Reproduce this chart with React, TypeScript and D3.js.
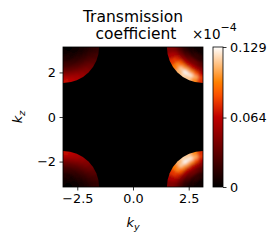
import * as d3 from "d3";
import React, { useRef, useEffect } from "react";

const width = 279;
const height = 246;
const plot = { left: 63, top: 47, right: 203, bottom: 187 };
const cbar = { x: 213, w: 10 };

// polar grid around each Brillouin-zone corner (radius in 1/a, angle from side edge in degrees)
const ringEdges = [0, 0.4, 0.7, 0.95, 1.15, 1.32, 1.47, 1.62];
const sectorEdges = [0, 10, 20, 30, 40, 50, 60, 70, 80, 90];

// transmission (x1e-4), rows = rings (inner -> outer), cols = sectors
const rightCorner = [
  [0.005, 0.005, 0.005, 0.005, 0.005, 0.004, 0.004, 0.003, 0.003],
  [0.013, 0.015, 0.017, 0.018, 0.017, 0.014, 0.012, 0.009, 0.007],
  [0.028, 0.034, 0.039, 0.04, 0.037, 0.032, 0.026, 0.019, 0.014],
  [0.046, 0.057, 0.065, 0.067, 0.064, 0.057, 0.046, 0.036, 0.026],
  [0.065, 0.085, 0.101, 0.106, 0.1, 0.088, 0.071, 0.054, 0.039],
  [0.08, 0.11, 0.126, 0.129, 0.119, 0.101, 0.08, 0.061, 0.045],
  [0.075, 0.1, 0.115, 0.118, 0.11, 0.095, 0.077, 0.059, 0.044],
];
const leftCorner = [
  [0.004, 0.004, 0.004, 0.003, 0.003, 0.003, 0.002, 0.002, 0.001],
  [0.011, 0.011, 0.01, 0.009, 0.008, 0.007, 0.006, 0.004, 0.004],
  [0.021, 0.021, 0.02, 0.018, 0.016, 0.014, 0.011, 0.008, 0.006],
  [0.033, 0.032, 0.031, 0.028, 0.025, 0.021, 0.017, 0.013, 0.01],
  [0.046, 0.045, 0.042, 0.038, 0.034, 0.029, 0.023, 0.018, 0.013],
  [0.06, 0.057, 0.053, 0.047, 0.042, 0.035, 0.028, 0.021, 0.016],
  [0.067, 0.063, 0.058, 0.052, 0.045, 0.038, 0.03, 0.023, 0.017],
];

const xTicks = [-2.5, 0, 2.5];
const yTicks = [-2, 0, 2];
const cbarTicks = [0, 0.064, 0.129];
const vmax = 0.129;

// matplotlib gist_heat
function gistHeat(t: number) {
  const c = (v: number) => Math.round(255 * Math.max(0, Math.min(1, v)));
  return `rgb(${c(1.5 * t)},${c(2 * t - 1)},${c(4 * t - 3)})`;
}

export default function App() {
  const ref = useRef(null);

  useEffect(() => {
    const svg = d3.select(ref.current);
    svg.selectAll("*").remove();
    const font = "DejaVu Sans";

    const x = d3.scaleLinear().domain([-Math.PI, Math.PI]).range([plot.left, plot.right]);
    const y = d3.scaleLinear().domain([-Math.PI, Math.PI]).range([plot.bottom, plot.top]);
    const color = d3.scaleSequential((t: number) => gistHeat(t)).domain([0, vmax]);
    const ppu = x(1) - x(0);

    const defs = svg.append("defs");
    defs
      .append("clipPath")
      .attr("id", "plotClip")
      .append("rect")
      .attr("x", plot.left)
      .attr("y", plot.top)
      .attr("width", plot.right - plot.left)
      .attr("height", plot.bottom - plot.top);
    const blur = defs
      .append("filter")
      .attr("id", "soft")
      .attr("x", "-20%")
      .attr("y", "-20%")
      .attr("width", "140%")
      .attr("height", "140%");
    blur.append("feGaussianBlur").attr("stdDeviation", 1.8);

    // background (value 0)
    svg
      .append("rect")
      .attr("x", plot.left)
      .attr("y", plot.top)
      .attr("width", plot.right - plot.left)
      .attr("height", plot.bottom - plot.top)
      .attr("fill", color(0));

    const heat = svg.append("g").attr("clip-path", "url(#plotClip)");
    const corners = [
      { sx: -1, sy: 1, data: leftCorner },
      { sx: 1, sy: 1, data: rightCorner },
      { sx: -1, sy: -1, data: leftCorner },
      { sx: 1, sy: -1, data: rightCorner },
    ];
    const R = ringEdges[ringEdges.length - 1];
    const arc = d3.arc();
    const nR = ringEdges.length - 1;
    const nS = sectorEdges.length - 1;

    corners.forEach((c, ci) => {
      const cx = x(c.sx * Math.PI);
      const cy = y(c.sy * Math.PI);
      defs
        .append("clipPath")
        .attr("id", "disk" + ci)
        .append("circle")
        .attr("cx", cx)
        .attr("cy", cy)
        .attr("r", R * ppu);
      const base = c.sy > 0 ? Math.PI : 0;
      const dir = c.sx * c.sy;
      const toAngle = (deg: number) => base + (dir * deg * Math.PI) / 180;

      const cells: any[] = [];
      c.data.forEach((row, i) =>
        row.forEach((v, j) => cells.push({ i, j, v }))
      );

      heat
        .append("g")
        .attr("clip-path", `url(#disk${ci})`)
        .append("g")
        .attr("filter", "url(#soft)")
        .attr("transform", `translate(${cx},${cy})`)
        .selectAll("path")
        .data(cells)
        .join("path")
        .attr("d", (d: any) => {
          const p0 = d.j === 0 ? -30 : sectorEdges[d.j];
          const p1 = d.j === nS - 1 ? 120 : sectorEdges[d.j + 1];
          const a0 = toAngle(p0);
          const a1 = toAngle(p1);
          const r1 = d.i === nR - 1 ? ringEdges[d.i + 1] + 0.3 : ringEdges[d.i + 1];
          return arc({
            innerRadius: ringEdges[d.i] * ppu,
            outerRadius: r1 * ppu,
            startAngle: Math.min(a0, a1),
            endAngle: Math.max(a0, a1),
          } as any);
        })
        .attr("fill", (d: any) => color(d.v))
        .attr("stroke", (d: any) => color(d.v))
        .attr("stroke-width", 0.6);
    });

    // spines
    svg
      .append("rect")
      .attr("x", plot.left)
      .attr("y", plot.top)
      .attr("width", plot.right - plot.left)
      .attr("height", plot.bottom - plot.top)
      .attr("fill", "none")
      .attr("stroke", "black")
      .attr("stroke-width", 0.8);

    function styleAxis(g: any) {
      g.select(".domain").remove();
      g.selectAll("line").attr("stroke", "black").attr("stroke-width", 0.8);
      g.selectAll("text")
        .attr("fill", "black")
        .style("font-family", font)
        .style("font-size", "12.8px");
    }

    svg
      .append("g")
      .attr("transform", `translate(0,${plot.bottom})`)
      .call(
        d3.axisBottom(x).tickValues(xTicks).tickFormat(d3.format(".1f")).tickSize(3.5).tickPadding(3.5)
      )
      .call(styleAxis);

    svg
      .append("g")
      .attr("transform", `translate(${plot.left},0)`)
      .call(d3.axisLeft(y).tickValues(yTicks).tickFormat(d3.format("d")).tickSize(3.5).tickPadding(3.5))
      .call(styleAxis);

    // colorbar
    const cy = d3.scaleLinear().domain([0, vmax]).range([plot.bottom, plot.top]);
    const grad = defs
      .append("linearGradient")
      .attr("id", "cbGrad")
      .attr("x1", 0)
      .attr("y1", 1)
      .attr("x2", 0)
      .attr("y2", 0);
    d3.range(0, 1.0001, 0.05).forEach((t: number) => {
      grad.append("stop").attr("offset", t).attr("stop-color", color(t * vmax));
    });
    svg
      .append("rect")
      .attr("x", cbar.x)
      .attr("y", plot.top)
      .attr("width", cbar.w)
      .attr("height", plot.bottom - plot.top)
      .attr("fill", "url(#cbGrad)")
      .attr("stroke", "black")
      .attr("stroke-width", 0.8);
    svg
      .append("g")
      .attr("transform", `translate(${cbar.x + cbar.w},0)`)
      .call(
        d3
          .axisRight(cy)
          .tickValues(cbarTicks)
          .tickFormat((d: any) => (d === 0 ? "0" : d3.format(".3f")(d)))
          .tickSize(3.5)
          .tickPadding(3.5)
      )
      .call(styleAxis);

    // title
    const title = svg
      .append("g")
      .attr("text-anchor", "middle")
      .style("font-family", font)
      .style("font-size", "15.5px");
    title.append("text").attr("x", 133).attr("y", 22).text("Transmission");
    title.append("text").attr("x", 136).attr("y", 39).text("coefficient");

    // offset text
    const off = svg
      .append("text")
      .attr("x", 192)
      .attr("y", 39)
      .style("font-family", font)
      .style("font-size", "13.5px");
    off.append("tspan").text("×10");
    off.append("tspan").attr("dy", -8).style("font-size", "11px").text("−4");

    // axis labels
    const xl = svg
      .append("text")
      .attr("x", 133)
      .attr("y", 227)
      .attr("text-anchor", "middle")
      .style("font-family", font)
      .style("font-size", "13px")
      .style("font-style", "italic");
    xl.append("tspan").text("k");
    xl.append("tspan").attr("dy", 3).style("font-size", "9.5px").text("y");

    const yl = svg
      .append("text")
      .attr("transform", `translate(21.5,117) rotate(-90)`)
      .attr("text-anchor", "middle")
      .style("font-family", font)
      .style("font-size", "13px")
      .style("font-style", "italic");
    yl.append("tspan").text("k");
    yl.append("tspan").attr("dy", 3).style("font-size", "9.5px").text("z");
  }, []);

  return (
    <svg
      ref={ref}
      width={width}
      height={height}
      viewBox={`0 0 ${width} ${height}`}
      style={{ position: "absolute", left: 0, top: 0, background: "white" }}
    ></svg>
  );
}
